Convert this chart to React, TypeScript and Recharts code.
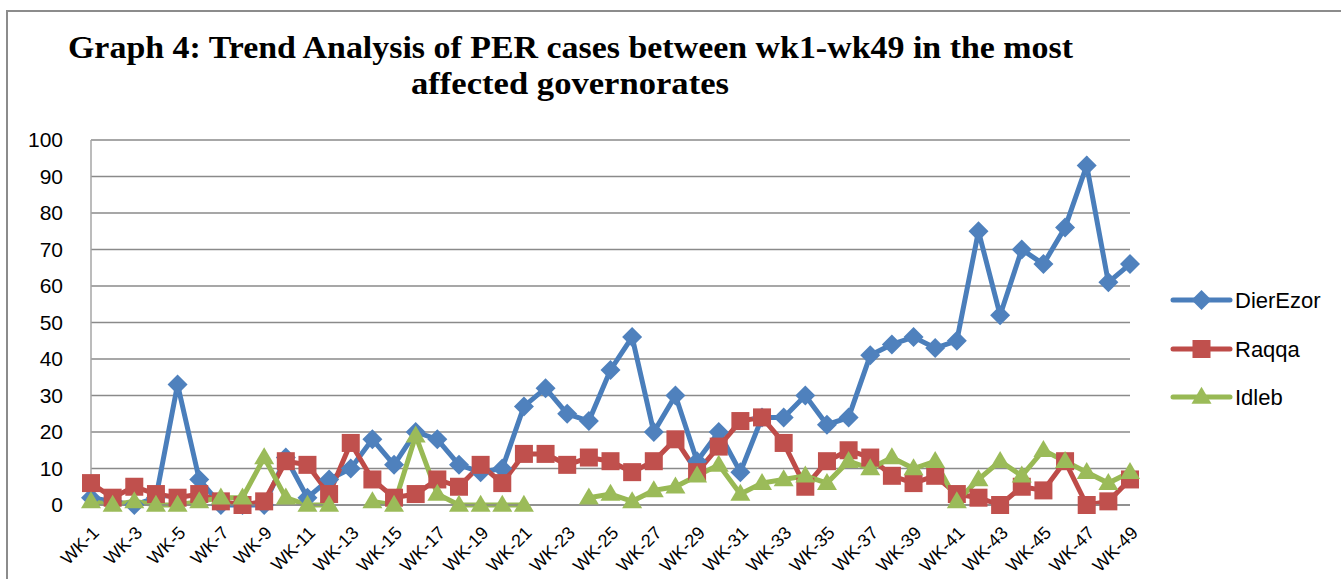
import React from 'react';
import { LineChart, Line, XAxis, YAxis, CartesianGrid } from 'recharts';

const weeks: string[] = Array.from({ length: 49 }, (_, i) => `WK-${i + 1}`);

const dierEzor: (number | null)[] = [
  2, 1, 0, 2, 33, 7, 0, 0, 0, 13,
  2, 7, 10, 18, 11, 20, 18, 11, 9, 10,
  27, 32, 25, 23, 37, 46, 20, 30, 12, 20,
  9, 24, 24, 30, 22, 24, 41, 44, 46, 43,
  45, 75, 52, 70, 66, 76, 93, 61, 66,
];

const raqqa: (number | null)[] = [
  6, 2, 5, 3, 2, 3, 1, 0, 1, 12,
  11, 3, 17, 7, 2, 3, 7, 5, 11, 6,
  14, 14, 11, 13, 12, 9, 12, 18, 9, 16,
  23, 24, 17, 5, 12, 15, 13, 8, 6, 8,
  3, 2, 0, 5, 4, 12, 0, 1, 7,
];

const idleb: (number | null)[] = [
  1, 0, 1, 0, 0, 1, 2, 2, 13, 2,
  0, 0, null, 1, 0, 19, 3, 0, 0, 0,
  0, null, null, 2, 3, 1, 4, 5, 8, 11,
  3, 6, 7, 8, 6, 12, 10, 13, 10, 12,
  1, 7, 12, 8, 15, 12, 9, 6, 9,
];

const yTicks = [0, 10, 20, 30, 40, 50, 60, 70, 80, 90, 100];

const seriesNames = ['DierEzor', 'Raqqa', 'Idleb'];
const lineColors: Record<string, string> = { DierEzor: '#4A7EBB', Raqqa: '#BE4B48', Idleb: '#98B954' };
const markerColors: Record<string, string> = { DierEzor: '#4F81BD', Raqqa: '#C0504D', Idleb: '#9BBB59' };
const markerShapes: Record<string, string> = { DierEzor: 'diamond', Raqqa: 'square', Idleb: 'triangle' };

const data = weeks.map((w, i) => ({
  week: w,
  DierEzor: dierEzor[i],
  Raqqa: raqqa[i],
  Idleb: idleb[i],
}));

function Marker({ shape, cx, cy, color }: { shape: string; cx: number; cy: number; color: string }) {
  if (shape === 'diamond') {
    const r = 10;
    return <path d={`M${cx},${cy - r}L${cx + r},${cy}L${cx},${cy + r}L${cx - r},${cy}Z`} fill={color} />;
  }
  if (shape === 'square') {
    const s = 9;
    return <rect x={cx - s} y={cy - s} width={2 * s} height={2 * s} fill={color} />;
  }
  const h = 17;
  const b = 10;
  return <path d={`M${cx},${cy - h * 0.6}L${cx + b},${cy + h * 0.4}L${cx - b},${cy + h * 0.4}Z`} fill={color} />;
}

const makeDot = (name: string) => (props: any) => {
  const { cx, cy, value, index } = props;
  if (value === null || value === undefined || cx == null || cy == null || isNaN(cy)) {
    return <g key={`${name}-dot-${index}`} />;
  }
  return (
    <g key={`${name}-dot-${index}`}>
      <Marker shape={markerShapes[name]} cx={cx} cy={cy} color={markerColors[name]} />
    </g>
  );
};

const XTick = (props: any) => {
  const { x, y, payload } = props;
  const bx = x + 9;
  const by = y + 21;
  return (
    <text
      x={bx}
      y={by}
      transform={`rotate(-45, ${bx}, ${by})`}
      textAnchor="end"
      fontSize={18}
      fontFamily="Liberation Sans, Arial, sans-serif"
      fill="#000"
    >
      {payload.value}
    </text>
  );
};

function LegendBox() {
  const rowY = [20, 69, 117];
  return (
    <svg style={{ position: 'absolute', left: 1160, top: 280 }} width={181} height={140}>
      {seriesNames.map((name, i) => {
        const y = rowY[i];
        return (
          <g key={name}>
            <line x1={13} y1={y} x2={70} y2={y} stroke={lineColors[name]} strokeWidth={5} strokeLinecap="round" />
            <Marker shape={markerShapes[name]} cx={41.5} cy={y} color={markerColors[name]} />
            <text x={75} y={y} dy="0.35em" fontSize={22} fontFamily="Liberation Sans, Arial, sans-serif" fill="#000">
              {name}
            </text>
          </g>
        );
      })}
    </svg>
  );
}

export default function App() {
  return (
    <div style={{ position: 'absolute', left: 0, top: 0, width: 1341, height: 579, overflow: 'hidden', background: '#fff' }}>
      <div
        style={{
          position: 'absolute',
          left: 6,
          top: 10,
          width: 1400,
          height: 700,
          border: '2px solid #8c8c8c',
          boxSizing: 'border-box',
        }}
      />
      <svg style={{ position: 'absolute', left: 0, top: 0 }} width={1341} height={110}>
        <text
          x={570.5}
          y={58}
          textAnchor="middle"
          fontSize={32}
          fontWeight="bold"
          fontFamily="Liberation Serif, Times New Roman, serif"
          textLength={1005}
          lengthAdjust="spacingAndGlyphs"
          fill="#000"
        >
          Graph 4: Trend Analysis of PER cases between wk1-wk49 in the most
        </text>
        <text
          x={570}
          y={94}
          textAnchor="middle"
          fontSize={32}
          fontWeight="bold"
          fontFamily="Liberation Serif, Times New Roman, serif"
          textLength={318}
          lengthAdjust="spacingAndGlyphs"
          fill="#000"
        >
          affected governorates
        </text>
      </svg>
      <div style={{ position: 'absolute', left: 0, top: 0 }}>
        <LineChart width={1341} height={579} data={data} margin={{ top: 140, right: 211, bottom: 14, left: 31 }}>
          <CartesianGrid horizontal={true} vertical={false} stroke="#8a8a8a" strokeWidth={1.5} />
          <XAxis
            dataKey="week"
            interval={1}
            height={60}
            tickLine={false}
            axisLine={{ stroke: '#8a8a8a', strokeWidth: 1.5 }}
            tick={<XTick />}
          />
          <YAxis
            width={60}
            domain={[0, 100]}
            ticks={yTicks}
            interval={0}
            tickLine={false}
            tickSize={0}
            tickMargin={28}
            axisLine={{ stroke: '#a6a6a6', strokeWidth: 1.5 }}
            tick={{ fontSize: 21, fill: '#000', fontFamily: 'Liberation Sans, Arial, sans-serif' }}
          />
          {seriesNames.map((name) => (
            <Line
              key={name}
              type="linear"
              dataKey={name}
              name={name}
              stroke={lineColors[name]}
              strokeWidth={5}
              dot={makeDot(name)}
              activeDot={false}
              connectNulls={false}
              isAnimationActive={false}
            />
          ))}
        </LineChart>
      </div>
      <LegendBox />
    </div>
  );
}
